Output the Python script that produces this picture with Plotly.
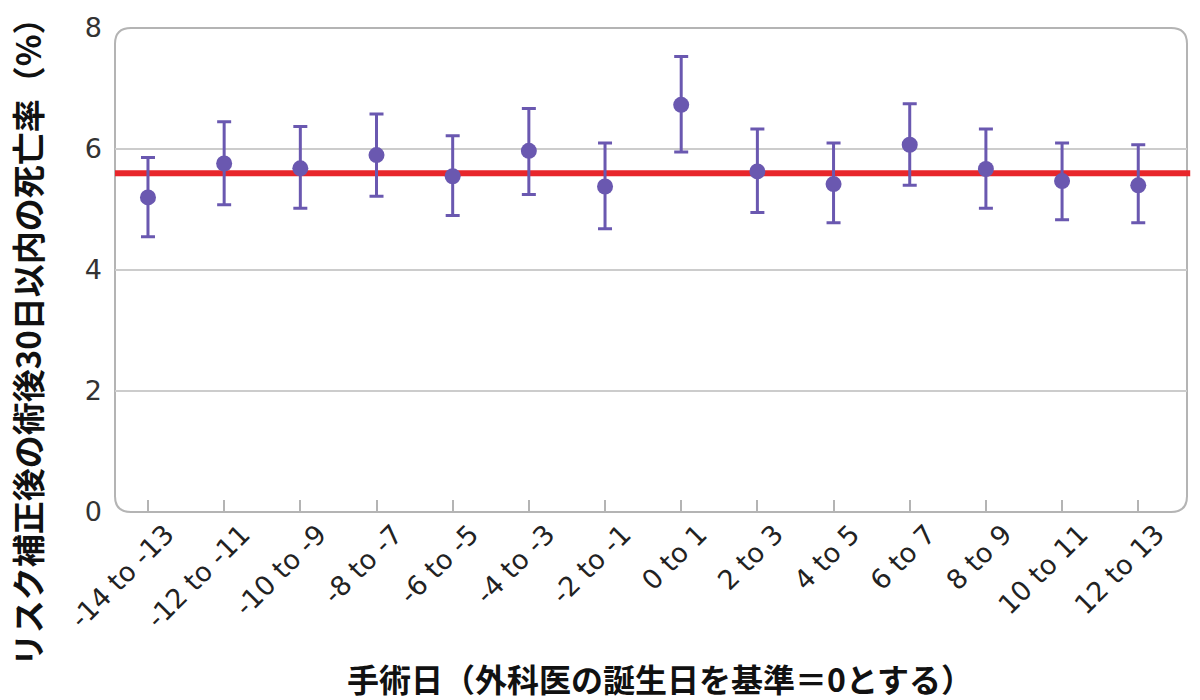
import plotly.graph_objects as go

categories = ["-14 to -13", "-12 to -11", "-10 to -9", "-8 to -7", "-6 to -5", "-4 to -3",
              "-2 to -1", "0 to 1", "2 to 3", "4 to 5", "6 to 7", "8 to 9", "10 to 11", "12 to 13"]
mortality = [5.20, 5.76, 5.68, 5.90, 5.55, 5.97, 5.38, 6.73, 5.63, 5.42, 6.07, 5.67, 5.47, 5.40]
upper = [5.86, 6.45, 6.37, 6.58, 6.22, 6.67, 6.10, 7.53, 6.33, 6.10, 6.75, 6.33, 6.10, 6.07]
lower = [4.55, 5.08, 5.02, 5.22, 4.90, 5.25, 4.68, 5.95, 4.95, 4.78, 5.40, 5.02, 4.83, 4.78]
overall_mean = 5.6
y_ticks = [0, 2, 4, 6, 8]

purple = "#6a58b0"
x_idx = list(range(len(categories)))

fig = go.Figure()
fig.add_trace(go.Scatter(
    x=x_idx, y=mortality, mode="markers",
    marker=dict(color=purple, size=16),
    error_y=dict(type="data", symmetric=False,
                 array=[u - m for u, m in zip(upper, mortality)],
                 arrayminus=[m - l for m, l in zip(mortality, lower)],
                 color=purple, thickness=3, width=7),
    showlegend=False,
))

# rounded frame
rx, ry = 16 / 1072, 16 / 490
path = (f"M {rx},0 L {1-rx},0 Q 1,0 1,{ry} L 1,{1-ry} Q 1,1 {1-rx},1 "
        f"L {rx},1 Q 0,1 0,{1-ry} L 0,{ry} Q 0,0 {rx},0 Z")
fig.add_shape(type="path", path=path, xref="paper", yref="paper",
              line=dict(color="#b4b4b4", width=2), layer="below")

# overall mean line
fig.add_shape(type="line", xref="paper", yref="y", x0=0, x1=1.003,
              y0=overall_mean, y1=overall_mean,
              line=dict(color="#e8262b", width=6), layer="below")

fig.update_layout(
    width=1200, height=700,
    margin=dict(l=115, r=13, t=22, b=188),
    paper_bgcolor="white", plot_bgcolor="white",
    font=dict(family="DejaVu Sans", color="#222222"),
    xaxis=dict(
        range=[-0.433, 13.64], tickmode="array", tickvals=x_idx, ticktext=categories,
        tickangle=-45, tickfont=dict(family="DejaVu Sans", size=27, color="#222222"),
        ticks="inside", ticklen=12, tickcolor="#b4b4b4", tickwidth=1.5,
        ticklabelshift=18, ticklabelstandoff=0,
        showgrid=False, zeroline=False, showline=False,
    ),
    yaxis=dict(
        range=[0, 8], tickmode="array", tickvals=y_ticks,
        tickfont=dict(family="DejaVu Sans", size=27, color="#333333"),
        showgrid=True, gridcolor="#cccccc", gridwidth=2,
        zeroline=False, showline=False, ticks="", ticklabelstandoff=12,
    ),
    annotations=[
        dict(text="リスク補正後の術後30日以内の死亡率（%）", xref="paper", yref="paper",
             x=-0.082, y=(512 - 332) / 490, xanchor="center", yanchor="middle", textangle=-90,
             showarrow=False,
             font=dict(family="Noto Sans CJK JP", size=33, color="#111111", weight="bold")),
        dict(text="手術日（外科医の誕生日を基準＝0とする）", xref="paper", yref="paper",
             x=(660 - 115) / 1072, y=(512 - 680) / 490, xanchor="center", yanchor="middle",
             showarrow=False,
             font=dict(family="Noto Sans CJK JP", size=32, color="#111111", weight="bold")),
    ],
)

fig.write_html("out.html")
